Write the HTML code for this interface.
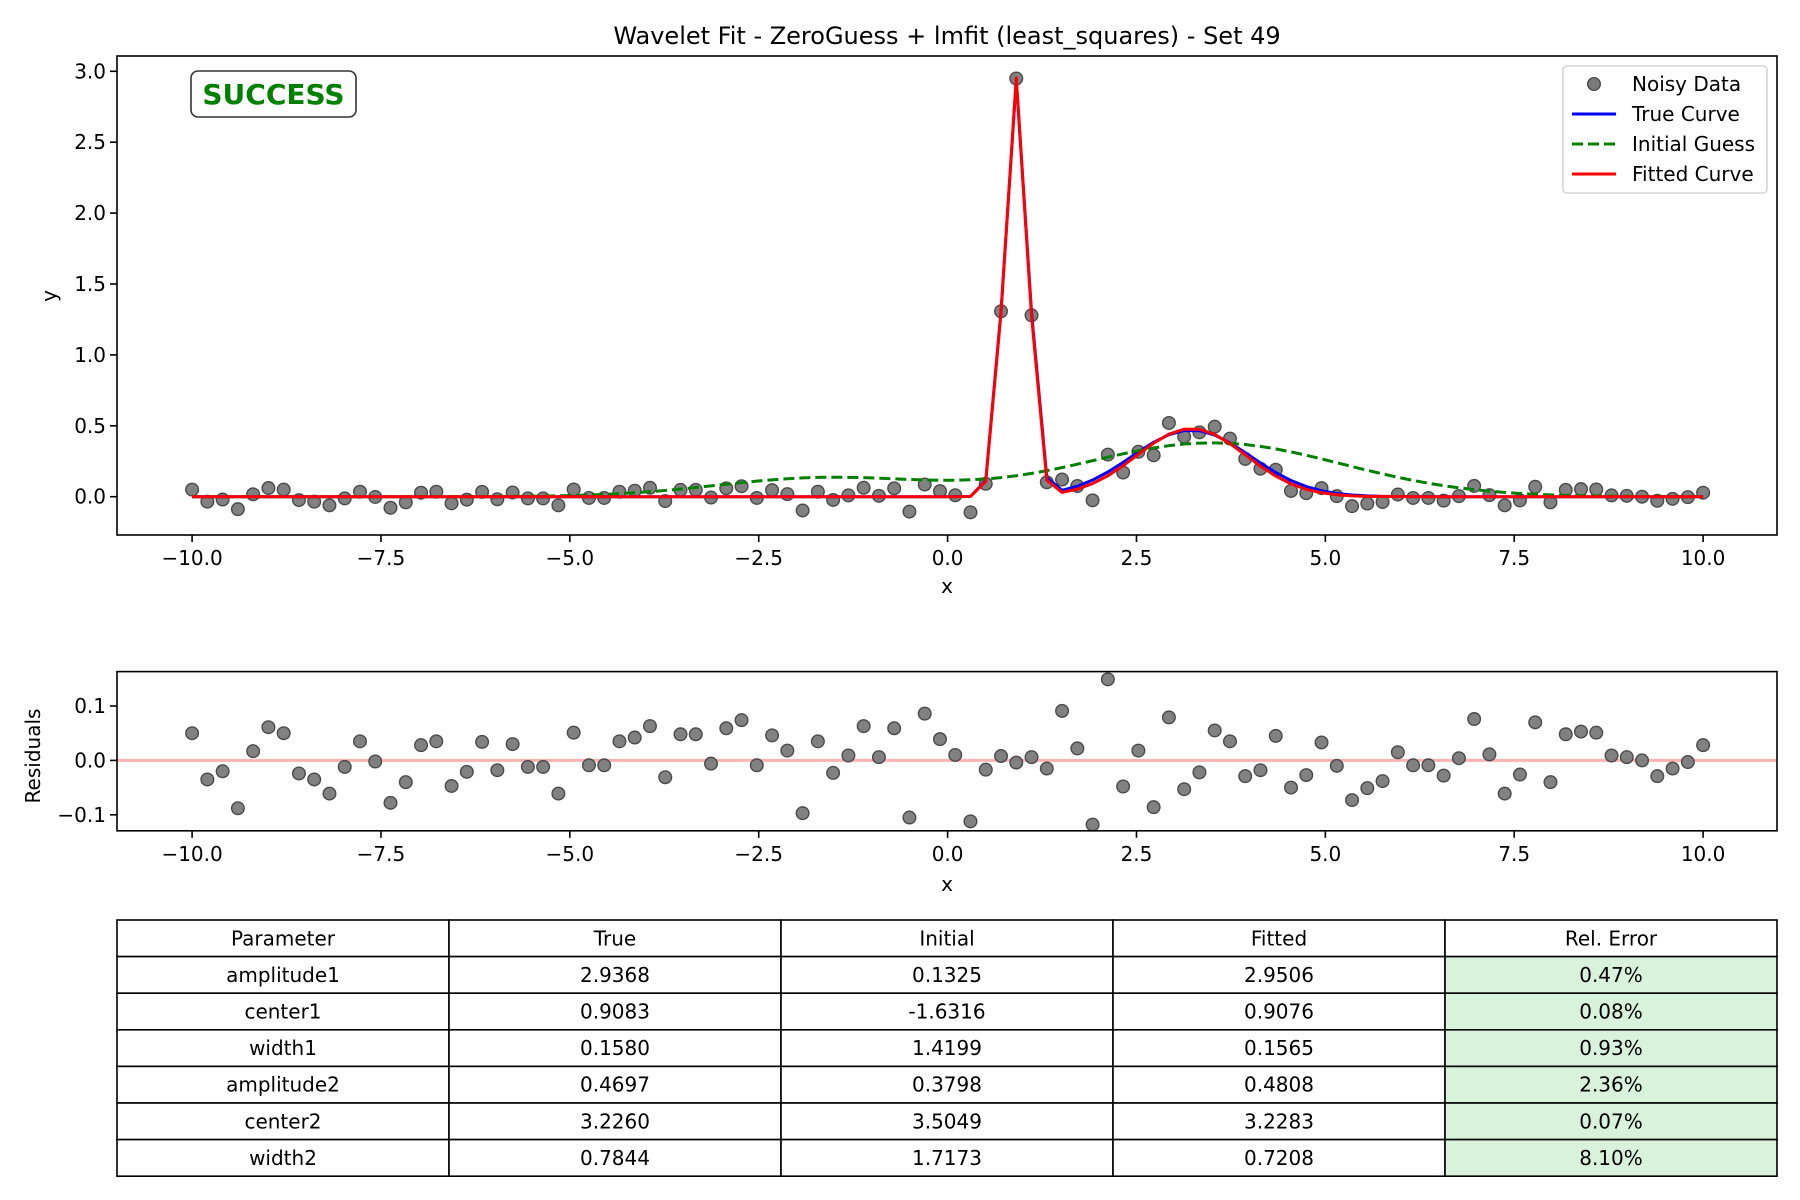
<!DOCTYPE html>
<html><head><meta charset="utf-8"><style>
html,body{margin:0;padding:0;background:#fff;}
svg{display:block;font-family:"DejaVu Sans","Liberation Sans",sans-serif;}
</style></head>
<body>
<svg id="fig" width="1800" height="1200" viewBox="0 0 1800 1200" xmlns="http://www.w3.org/2000/svg">
<rect width="1800" height="1200" fill="#fff"/>
<text x="947" y="44" font-size="24" text-anchor="middle">Wavelet Fit - ZeroGuess + lmfit (least_squares) - Set 49</text>
<g id="main"></g>
<g id="resid"></g>
<g id="table"></g>
</svg>
<script>
// ---- data ----
const paramNames = ["amplitude1","center1","width1","amplitude2","center2","width2"];
const trueParams = [2.9368, 0.9083, 0.1580, 0.4697, 3.2260, 0.7844];
const initParams = [0.1325, -1.6316, 1.4199, 0.3798, 3.5049, 1.7173];
const fitParams  = [2.9506, 0.9076, 0.1565, 0.4808, 3.2283, 0.7208];
const relErrors  = ["0.47%","0.08%","0.93%","2.36%","0.07%","8.10%"];
const residuals = [0.050,-0.035,-0.020,-0.088,0.017,0.061,0.050,-0.024,-0.035,-0.061,
-0.012,0.035,-0.002,-0.078,-0.040,0.028,0.035,-0.047,-0.021,0.034,
-0.018,0.030,-0.012,-0.012,-0.061,0.051,-0.009,-0.009,0.035,0.042,
0.063,-0.031,0.048,0.048,-0.006,0.059,0.074,-0.009,0.046,0.018,
-0.097,0.035,-0.023,0.009,0.063,0.006,0.059,-0.105,0.086,0.039,
0.010,-0.112,-0.017,0.008,-0.004,0.006,-0.015,0.091,0.022,-0.118,
0.149,-0.048,0.018,-0.086,0.079,-0.053,-0.022,0.055,0.035,-0.029,
-0.018,0.045,-0.050,-0.027,0.033,-0.010,-0.073,-0.051,-0.038,0.015,
-0.009,-0.009,-0.028,0.004,0.076,0.011,-0.061,-0.026,0.070,-0.040,
0.048,0.053,0.051,0.009,0.006,0.000,-0.029,-0.015,-0.003,0.028];
const xTicks = [-10,-7.5,-5,-2.5,0,2.5,5,7.5,10];
const xTickLabels = ["\u221210.0","\u22127.5","\u22125.0","\u22122.5","0.0","2.5","5.0","7.5","10.0"];
const yTicks = [0,0.5,1,1.5,2,2.5,3];
const yTickLabels = ["0.0","0.5","1.0","1.5","2.0","2.5","3.0"];
const rTicks = [-0.1,0,0.1];
const rTickLabels = ["\u22120.1","0.0","0.1"];

const NS="http://www.w3.org/2000/svg";
function el(parent, tag, attrs){const e=document.createElementNS(NS,tag);for(const k in attrs)e.setAttribute(k,attrs[k]);parent.appendChild(e);return e;}
function model(p,x){return p[0]*Math.exp(-((x-p[1])**2)/(2*p[2]*p[2]))+p[3]*Math.exp(-((x-p[4])**2)/(2*p[5]*p[5]));}
const N=residuals.length;
const xs=[];for(let i=0;i<N;i++)xs.push(-10+20*i/(N-1));
const dataY=xs.map((x,i)=>model(fitParams,x)+residuals[i]);

// axes
const L=117,R=1777;
const X=x=>947.6+75.55*x;
const MT=56,MB=535; const Y=y=>496.7-141.8*y;
const RT=671.6,RB=830.8; const RY=y=>760.4-544*y;

function axesFrame(g,top,bot,ticksY,labelsY,fy,tickNameY){
  const lx=el(g,'g',{});
  
  
  xTicks.forEach((t,i)=>{
    el(lx,'line',{x1:X(t),x2:X(t),y1:bot,y2:bot+7,stroke:'#000','stroke-width':1.6});
    const tx=el(lx,'text',{x:X(t),y:bot+30,'font-size':20,'text-anchor':'middle'});
    tx.textContent=xTickLabels[i];
    
    
  });
  const ly=el(g,'g',{});
  
  
  ticksY.forEach((t,i)=>{
    el(ly,'line',{x1:L-7,x2:L,y1:fy(t),y2:fy(t),stroke:'#000','stroke-width':1.6});
    const tx=el(ly,'text',{x:L-11,y:fy(t)+7,'font-size':20,'text-anchor':'end'});
    tx.textContent=labelsY[i];
    
    
  });
}
function frame(g,top,bot){el(g,'rect',{x:L,y:top,width:R-L,height:bot-top,fill:'none',stroke:'#000','stroke-width':1.6});}
function poly(g,fy,ys,color,dash,name){
  const p=el(g,'polyline',{points:xs.map((x,i)=>X(x).toFixed(2)+','+fy(ys[i]).toFixed(2)).join(' '),fill:'none',stroke:color,'stroke-width':3,'stroke-linejoin':'round'});
  if(dash)p.setAttribute('stroke-dasharray',dash);
  
  
}
function dots(g,fy,ys,name){
  ys.forEach((v,i)=>{
    const c=el(g,'circle',{cx:X(xs[i]).toFixed(2),cy:fy(v).toFixed(2),r:6.3,fill:'#7a7a7a','fill-opacity':0.95,stroke:'#4a4a4a','stroke-width':1.4});
    
    
  });
}

// main plot
const main=document.getElementById('main');
const mclip=el(main,'clipPath',{id:'mclip'});el(mclip,'rect',{x:L,y:MT,width:R-L,height:MB-MT});
const mg=el(main,'g',{'clip-path':'url(#mclip)'});
dots(mg,Y,dataY,'noisy-data-point');
poly(mg,Y,xs.map(x=>model(trueParams,x)),'#0000ff',null,'true-curve');
poly(mg,Y,xs.map(x=>model(initParams,x)),'#008000','11,5','initial-guess-curve');
poly(mg,Y,xs.map(x=>model(fitParams,x)),'#ff0000',null,'fitted-curve');
frame(main,MT,MB);
axesFrame(main,MT,MB,yTicks,yTickLabels,Y,'y-tick-label');
let t=el(main,'text',{x:947,y:593,'font-size':20,'text-anchor':'middle'});t.textContent='x';


t=el(main,'text',{x:0,y:0,'font-size':20,'text-anchor':'middle',transform:'translate(56,296) rotate(-90)'});t.textContent='y';


// success badge
const sb=el(main,'g',{});


el(sb,'rect',{x:191,y:71,width:165,height:46,rx:7,fill:'#fff',stroke:'#333','stroke-width':1.6});
t=el(sb,'text',{x:273.5,y:104,'font-size':28,'font-weight':'bold',fill:'#008000','text-anchor':'middle'});t.textContent='SUCCESS';
// legend
const lg=el(main,'g',{});


el(lg,'rect',{x:1563,y:66,width:204,height:127,rx:4,fill:'#fff','fill-opacity':0.8,stroke:'#d5d5d5','stroke-width':1.6});
const legItems=[["Noisy Data",null,null],["True Curve","#0000ff",null],["Initial Guess","#008000","11,5"],["Fitted Curve","#ff0000",null]];
legItems.forEach((it,i)=>{
  const yy=84+30*i;
  const eg=el(lg,'g',{});
  
  
  if(it[1]===null) el(eg,'circle',{cx:1594,cy:yy,r:6.3,fill:'#7a7a7a',stroke:'#4a4a4a','stroke-width':1.4});
  else {const l=el(eg,'line',{x1:1572,x2:1616,y1:yy,y2:yy,stroke:it[1],'stroke-width':3}); if(it[2])l.setAttribute('stroke-dasharray',it[2]);}
  const tx=el(eg,'text',{x:1632,y:yy+7,'font-size':20});tx.textContent=it[0];
});

// residual plot
const rs=document.getElementById('resid');
const rclip=el(rs,'clipPath',{id:'rclip'});el(rclip,'rect',{x:L,y:RT,width:R-L,height:RB-RT});
const rg=el(rs,'g',{'clip-path':'url(#rclip)'});
const zl=el(rg,'line',{x1:L,x2:R,y1:RY(0),y2:RY(0),stroke:'#ff0000','stroke-opacity':0.3,'stroke-width':3});


dots(rg,RY,residuals,'residual-point');
frame(rs,RT,RB);
axesFrame(rs,RT,RB,rTicks,rTickLabels,RY,'residual-tick-label');
t=el(rs,'text',{x:947,y:891,'font-size':20,'text-anchor':'middle'});t.textContent='x';


t=el(rs,'text',{x:0,y:0,'font-size':20,'text-anchor':'middle',transform:'translate(40,756) rotate(-90)'});t.textContent='Residuals';



// table
const tb=document.getElementById('table');
const colX=[117,449,781,1113,1445,1777];
const TT=920,RH=36.6;
const headers=["Parameter","True","Initial","Fitted","Rel. Error"];
const rows=[headers].concat(paramNames.map((n,i)=>[n,trueParams[i].toFixed(4),initParams[i].toFixed(4),fitParams[i].toFixed(4),relErrors[i]]));
rows.forEach((row,r)=>{
  row.forEach((v,c)=>{
    const y0=TT+RH*r;
    const cell=el(tb,'g',{});
    
    
    el(cell,'rect',{x:colX[c],y:y0,width:colX[c+1]-colX[c],height:RH,fill:(c===4&&r>0)?'#d8f2dc':'#fff',stroke:'#000','stroke-width':1.6});
    const tx=el(cell,'text',{x:(colX[c]+colX[c+1])/2,y:y0+RH/2+7,'font-size':20,'text-anchor':'middle'});
    tx.textContent=v;
  });
});
</script>
</body></html>
